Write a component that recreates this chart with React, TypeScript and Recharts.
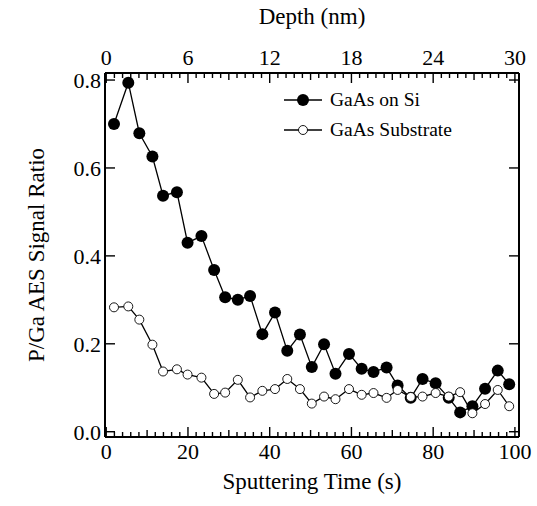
import { LineChart, Line, XAxis, YAxis } from 'recharts';

const timeS = [1.9, 5.4, 8.1, 11.3, 13.9, 17.3, 19.9, 23.3, 26.4, 29.1, 32.2, 35.2, 38.2, 41.3, 44.3, 47.4, 50.3, 53.3, 56.1, 59.4, 62.5, 65.4, 68.6, 71.3, 74.5, 77.4, 80.6, 83.8, 86.6, 89.6, 92.7, 95.8, 98.6];
const gaasOnSi = [0.70, 0.794, 0.679, 0.626, 0.537, 0.545, 0.43, 0.445, 0.368, 0.306, 0.30, 0.309, 0.222, 0.271, 0.184, 0.221, 0.147, 0.199, 0.132, 0.177, 0.143, 0.136, 0.146, 0.105, 0.077, 0.12, 0.11, 0.077, 0.044, 0.058, 0.098, 0.139, 0.108];
const gaasSubstrate = [0.283, 0.285, 0.255, 0.198, 0.137, 0.142, 0.13, 0.123, 0.086, 0.089, 0.118, 0.078, 0.093, 0.097, 0.12, 0.097, 0.064, 0.080, 0.074, 0.097, 0.084, 0.088, 0.077, 0.095, 0.079, 0.080, 0.088, 0.080, 0.09, 0.042, 0.063, 0.095, 0.058];

const timeTicks = [0, 20, 40, 60, 80, 100];
const depthLabels = ['0', '6', '12', '18', '24', '30'];
const ratioTicks = [0, 0.2, 0.4, 0.6, 0.8];

const data = timeS.map((t, i) => ({ t, si: gaasOnSi[i], sub: gaasSubstrate[i] }));

// minor ticks every 2 s, labelled ones every 20 s
const allTimeTicks: number[] = [];
for (let v = 0; v <= 100; v += 2) allTimeTicks.push(v);

const FONT = '"Liberation Serif", "Times New Roman", serif';
const xDomain = [-0.3, 101];
const yDomain = [-0.012, 0.816];

const tickLen = (v: number) => (v % 20 === 0 ? 10 : v % 10 === 0 ? 7 : 5);

const BottomTick = ({ x, y, payload }: any) => {
    const v = payload.value;
    const idx = timeTicks.indexOf(v);
    return (
        <g>
            <line x1={x} x2={x} y1={y} y2={y - tickLen(v)} stroke="#000" strokeWidth={1.4} />
            {idx >= 0 && (
                <text x={x} y={y + 22} textAnchor="middle" fontSize={22} fontFamily={FONT} fill="#000">
                    {v}
                </text>
            )}
        </g>
    );
};

const TopTick = ({ x, y, payload }: any) => {
    const v = payload.value;
    const idx = timeTicks.indexOf(v);
    return (
        <g>
            <line x1={x} x2={x} y1={y} y2={y + tickLen(v)} stroke="#000" strokeWidth={1.4} />
            {idx >= 0 && (
                <text x={x} y={y - 8} textAnchor="middle" fontSize={22} fontFamily={FONT} fill="#000">
                    {depthLabels[idx]}
                </text>
            )}
        </g>
    );
};

const LeftTick = ({ x, y, payload }: any) => (
    <g>
        <line x1={x} x2={x + 10} y1={y} y2={y} stroke="#000" strokeWidth={1.4} />
        <text x={x - 4} y={y + 8} textAnchor="end" fontSize={22} fontFamily={FONT} fill="#000">
            {payload.value.toFixed(1)}
        </text>
    </g>
);

const RightTick = ({ x, y }: any) => (
    <line x1={x} x2={x - 10} y1={y} y2={y} stroke="#000" strokeWidth={1.4} />
);

const LegendBox = () => (
    <div style={{ position: 'absolute', left: 282, top: 85, fontFamily: FONT, fontSize: 19.5, color: '#000' }}>
        <div style={{ display: 'flex', alignItems: 'center', height: 30 }}>
            <svg width={42} height={16}>
                <line x1={2} x2={40} y1={8} y2={8} stroke="#000" strokeWidth={1.4} />
                <circle cx={21} cy={8} r={6} fill="#000" />
            </svg>
            <span style={{ marginLeft: 6 }}>GaAs on Si</span>
        </div>
        <div style={{ display: 'flex', alignItems: 'center', height: 30 }}>
            <svg width={42} height={16}>
                <line x1={2} x2={40} y1={8} y2={8} stroke="#000" strokeWidth={1.3} />
                <circle cx={21} cy={8} r={4.5} fill="#fff" stroke="#000" strokeWidth={0.9} />
            </svg>
            <span style={{ marginLeft: 6 }}>GaAs Substrate</span>
        </div>
    </div>
);

const titleStyle = { position: 'absolute' as const, fontFamily: FONT, fontSize: 23, whiteSpace: 'nowrap' as const, color: '#000' };

export default function App() {
    return (
        <div style={{ position: 'absolute', left: 0, top: 0, width: 537, height: 506, background: '#fff' }}>
            <LineChart width={537} height={506} data={data} margin={{ top: 43, right: 8, bottom: 39, left: 65 }}>
                <XAxis
                    xAxisId="bottom"
                    dataKey="t"
                    type="number"
                    domain={xDomain}
                    ticks={allTimeTicks}
                    interval={0}
                    height={30}
                    tickSize={0}
                    tickMargin={0}
                    tickLine={false}
                    tick={<BottomTick />}
                    axisLine={{ stroke: '#000', strokeWidth: 2 }}
                    allowDataOverflow
                />
                <XAxis
                    xAxisId="top"
                    orientation="top"
                    dataKey="t"
                    type="number"
                    domain={xDomain}
                    ticks={allTimeTicks}
                    interval={0}
                    height={30}
                    tickSize={0}
                    tickMargin={0}
                    tickLine={false}
                    tick={<TopTick />}
                    axisLine={{ stroke: '#000', strokeWidth: 2 }}
                    allowDataOverflow
                />
                <YAxis
                    yAxisId="left"
                    type="number"
                    domain={yDomain}
                    ticks={ratioTicks}
                    interval={0}
                    width={40}
                    tickSize={0}
                    tickMargin={0}
                    tickLine={false}
                    tick={<LeftTick />}
                    axisLine={{ stroke: '#000', strokeWidth: 2 }}
                    allowDataOverflow
                />
                <YAxis
                    yAxisId="right"
                    orientation="right"
                    type="number"
                    domain={yDomain}
                    ticks={ratioTicks}
                    interval={0}
                    width={10}
                    tickSize={0}
                    tickMargin={0}
                    tickLine={false}
                    tick={<RightTick />}
                    axisLine={{ stroke: '#000', strokeWidth: 2 }}
                    allowDataOverflow
                />
                <Line
                    xAxisId="bottom"
                    yAxisId="left"
                    dataKey="si"
                    stroke="#000"
                    strokeWidth={1.3}
                    dot={{ r: 6, fill: '#000', stroke: '#000', strokeWidth: 0 }}
                    activeDot={false}
                    isAnimationActive={false}
                />
                <Line
                    xAxisId="top"
                    yAxisId="right"
                    dataKey="sub"
                    stroke="#000"
                    strokeWidth={1.3}
                    dot={{ r: 4.5, fill: '#fff', stroke: '#000', strokeWidth: 0.9 }}
                    activeDot={false}
                    isAnimationActive={false}
                />
            </LineChart>
            <LegendBox />
            <div style={{ ...titleStyle, left: 312, top: 4, transform: 'translateX(-50%)' }}>Depth (nm)</div>
            <div style={{ ...titleStyle, left: 312, top: 469, transform: 'translateX(-50%)' }}>Sputtering Time (s)</div>
            <div style={{ ...titleStyle, left: 37, top: 255, transform: 'translate(-50%, -50%) rotate(-90deg)' }}>
                P/Ga AES Signal Ratio
            </div>
        </div>
    );
}
